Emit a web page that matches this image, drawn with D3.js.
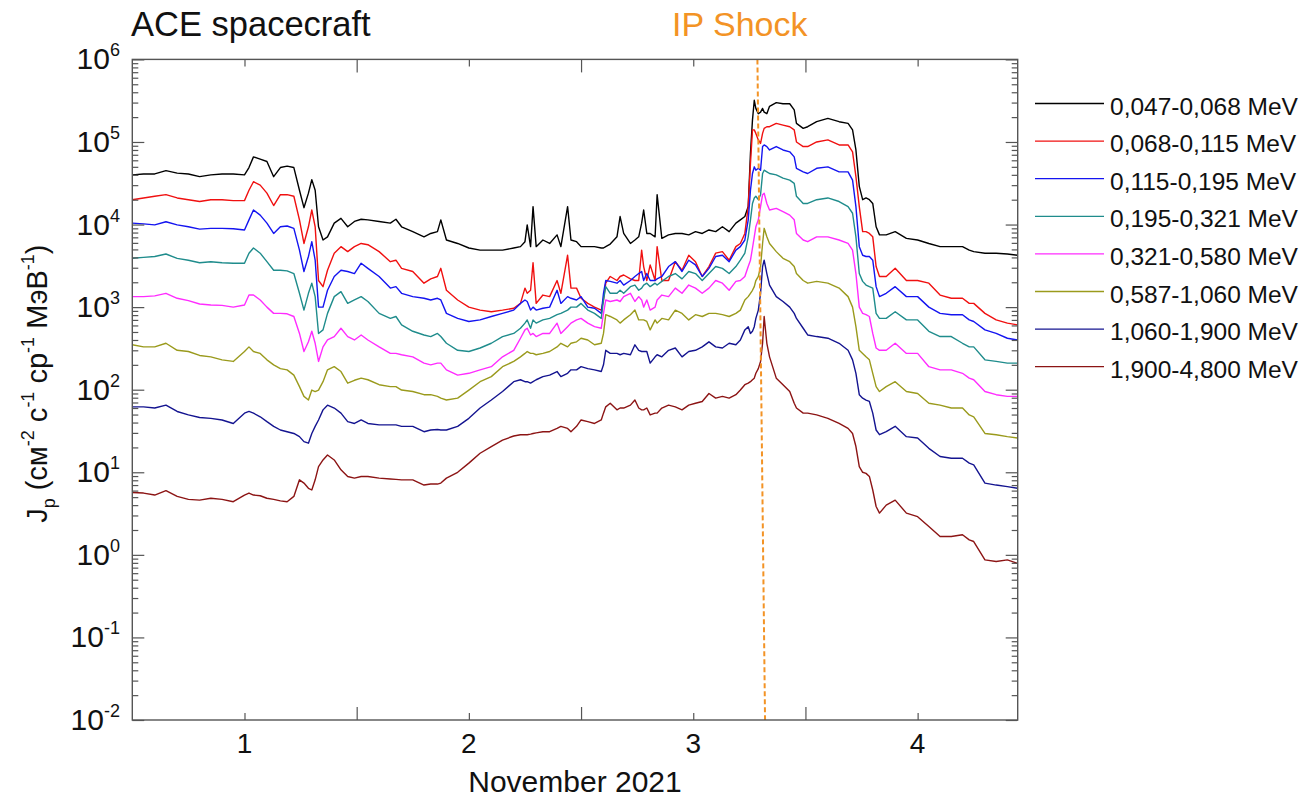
<!DOCTYPE html>
<html>
<head>
<meta charset="utf-8">
<script src="https://cdn.jsdelivr.net/npm/d3@7"></script>
<style>
  body { margin: 0; background: #fff; }
  text { font-family: "Liberation Sans", Arial, sans-serif; fill: #111; }
</style>
</head>
<body>
<svg id="chart" width="1310" height="797"></svg>
<script>
// time, days of November 2021
const times = [
  0.5, 0.55, 0.6, 0.65, 0.7, 0.75, 0.8, 0.85, 0.9, 0.95,
  1.0, 1.02, 1.04, 1.07, 1.1, 1.13, 1.16, 1.19, 1.22, 1.245,
  1.265, 1.285, 1.3, 1.315, 1.33, 1.35, 1.37, 1.4, 1.43, 1.46,
  1.49, 1.52,
  1.55, 1.6, 1.65, 1.675, 1.7, 1.75, 1.8, 1.83, 1.86, 1.875,
  1.9, 1.95, 2.0, 2.05, 2.1, 2.15, 2.2, 2.23, 2.25, 2.26,
  2.275, 2.286, 2.3, 2.33, 2.36, 2.393, 2.41, 2.44, 2.455, 2.48,
  2.5, 2.53, 2.56, 2.59, 2.6, 2.61, 2.63, 2.66, 2.674, 2.69,
  2.72, 2.74, 2.757, 2.77, 2.779, 2.793, 2.808, 2.83, 2.839, 2.86,
  2.89, 2.92, 2.95, 2.98, 3.01, 3.04, 3.07, 3.1, 3.13, 3.16,
  3.19, 3.21, 3.23, 3.245, 3.255, 3.264, 3.272, 3.279, 3.29, 3.3,
  3.309, 3.316, 3.328, 3.34, 3.37, 3.4, 3.43, 3.45, 3.46, 3.49,
  3.51, 3.55, 3.6, 3.65, 3.69, 3.71, 3.725, 3.74, 3.755, 3.77,
  3.785, 3.8, 3.815, 3.83, 3.86, 3.9, 3.95, 4.0, 4.05, 4.1,
  4.15, 4.2, 4.23, 4.25, 4.3, 4.35, 4.4, 4.445
]

// proton flux, cm^-2 s^-1 sr^-1 MeV^-1
const j047 = [
  4.0e4, 4.1e4, 4.1e4, 4.5e4, 4.2e4, 4.1e4, 3.8e4, 4.0e4, 4.1e4, 4.1e4,
  4.0e4, 4.9e4, 6.6e4, 6.2e4, 5.8e4, 3.8e4, 4.9e4, 5.1e4, 4.9e4, 2.6e4,
  1.6e4, 2.4e4, 3.5e4, 2.6e4, 9.4e3, 6.5e3, 7.1e3, 1.04e4, 1.19e4, 9.4e3,
  1.09e4, 1.16e4,
  1.14e4, 1.09e4, 1.04e4, 1.16e4, 9.4e3, 8.2e3, 7.1e3, 7.8e3, 8.2e3, 1.14e4,
  6.5e3, 5.9e3, 5.2e3, 4.9e3, 4.9e3, 4.9e3, 5.2e3, 5.4e3, 6.2e3, 9.9e3,
  5.4e3, 1.65e4, 5.4e3, 6.5e3, 5.9e3, 7.5e3, 5.4e3, 1.65e4, 6.5e3, 6.2e3,
  5.4e3, 5.4e3, 5.4e3, 5.2e3, 5.2e3, 5.4e3, 5.8e3, 7.1e3, 1.25e4, 7.8e3,
  5.9e3, 6.5e3, 7.1e3, 1.04e4, 1.5e4, 7.8e3, 7.8e3, 7.1e3, 2.3e4, 6.8e3,
  7.5e3, 7.8e3, 7.8e3, 7.5e3, 8.2e3, 7.8e3, 8.6e3, 8.2e3, 9.4e3, 8.2e3,
  1.04e4, 1.14e4, 1.25e4, 1.65e4, 7.3e4, 1.85e5, 3.2e5, 2.55e5, 2.2e5, 2.3e5,
  2.55e5, 2.3e5, 2.2e5, 2.7e5, 3.0e5, 2.9e5, 2.9e5, 2.45e5, 1.68e5, 1.46e5,
  1.53e5, 1.76e5, 1.93e5, 1.76e5, 1.68e5, 1.4e5, 8.0e4, 2.9e4, 2.0e4, 2.1e4,
  2.0e4, 1.8e4, 9.4e3, 7.5e3, 7.5e3, 8.2e3, 6.8e3, 6.5e3, 5.9e3, 5.4e3,
  5.4e3, 5.4e3, 4.9e3, 4.7e3, 4.5e3, 4.5e3, 4.4e3, 4.25e3
]
const j068 = [
  2.0e4, 2.1e4, 2.2e4, 2.3e4, 2.1e4, 2.0e4, 1.9e4, 2.0e4, 2.0e4, 1.95e4,
  1.95e4, 2.6e4, 3.3e4, 3.0e4, 2.4e4, 1.7e4, 2.3e4, 2.3e4, 2.2e4, 1.14e4,
  5.9e3, 9.4e3, 1.5e4, 9.4e3, 2.1e3, 1.77e3, 2.8e3, 4.5e3, 5.4e3, 4.7e3,
  5.4e3, 5.9e3,
  5.7e3, 4.7e3, 3.55e3, 3.7e3, 2.95e3, 2.7e3, 1.95e3, 2.2e3, 2.35e3, 2.95e3,
  1.6e3, 1.22e3, 1.0e3, 9.2e2, 8.8e2, 9.2e2, 9.7e2, 1.11e3, 1.7e3, 1.47e3,
  1.6e3, 3.45e3, 1.11e3, 1.4e3, 1.34e3, 2.1e3, 1.47e3, 4.25e3, 1.7e3, 1.7e3,
  1.28e3, 1.11e3, 1.0e3, 9.2e2, 1.22e3, 1.95e3, 2.35e3, 2.1e3, 2.35e3, 2.45e3,
  2.2e3, 2.1e3, 2.1e3, 4.9e3, 3.1e3, 2.1e3, 3.25e3, 2.1e3, 5.4e3, 2.1e3,
  2.1e3, 3.55e3, 2.8e3, 4.25e3, 3.55e3, 2.35e3, 3.1e3, 4.5e3, 4.7e3, 3.7e3,
  5.4e3, 5.9e3, 7.8e3, 1.65e4, 5.5e4, 1.4e5, 1.4e5, 1.27e5, 1.06e5, 9.6e4,
  1.27e5, 1.46e5, 1.53e5, 1.53e5, 1.68e5, 1.6e5, 1.53e5, 1.4e5, 1.0e5, 8.8e4,
  8.8e4, 1.0e5, 1.06e5, 9.2e4, 9.2e4, 7.6e4, 3.8e4, 1.65e4, 8.2e3, 8.2e3,
  7.8e3, 7.1e3, 3.1e3, 2.35e3, 2.35e3, 2.95e3, 2.1e3, 2.1e3, 1.95e3, 1.4e3,
  1.28e3, 1.28e3, 1.11e3, 1.11e3, 8.4e2, 7.0e2, 6.4e2, 6.1e2
]
const j115 = [
  1.04e4, 1.02e4, 9.9e3, 1.08e4, 9.9e3, 9.4e3, 8.8e3, 9.0e3, 9.0e3, 8.9e3,
  8.6e3, 1.14e4, 1.5e4, 1.3e4, 1.04e4, 7.8e3, 9.4e3, 9.6e3, 9.0e3, 4.9e3,
  2.7e3, 4.1e3, 6.2e3, 3.7e3, 1.0e3, 1.0e3, 1.6e3, 2.35e3, 2.8e3, 2.7e3,
  2.55e3, 3.4e3,
  2.95e3, 2.35e3, 1.7e3, 1.77e3, 1.47e3, 1.34e3, 1.28e3, 1.22e3, 1.28e3, 1.22e3,
  8.4e2, 7.3e2, 6.7e2, 7.0e2, 7.7e2, 8.4e2, 9.2e2, 1.11e3, 1.22e3, 1.17e3,
  9.2e2, 1.0e3, 9.2e2, 9.7e2, 1.0e3, 1.6e3, 1.11e3, 1.34e3, 1.28e3, 1.22e3,
  1.34e3, 1.0e3, 9.7e2, 8.4e2, 1.47e3, 2.1e3, 2.05e3, 1.95e3, 2.1e3, 1.85e3,
  2.1e3, 2.35e3, 2.55e3, 2.7e3, 2.1e3, 2.55e3, 2.1e3, 2.1e3, 2.2e3, 2.35e3,
  3.1e3, 3.55e3, 2.7e3, 3.7e3, 3.25e3, 2.35e3, 2.95e3, 4.1e3, 4.25e3, 3.55e3,
  4.9e3, 5.4e3, 6.5e3, 1.14e4, 2.6e4, 4.15e4, 5.0e4, 4.55e4, 4.8e4, 4.55e4,
  8.8e4, 9.2e4, 8.8e4, 8.0e4, 8.8e4, 8.0e4, 7.6e4, 6.6e4, 4.8e4, 4.35e4,
  4.15e4, 4.8e4, 5.0e4, 4.35e4, 4.35e4, 3.45e4, 1.65e4, 5.4e3, 4.25e3, 4.1e3,
  4.1e3, 3.7e3, 1.77e3, 1.34e3, 1.47e3, 1.77e3, 1.34e3, 1.34e3, 1.0e3, 8.4e2,
  8.1e2, 8.1e2, 7.0e2, 6.7e2, 5.3e2, 4.8e2, 4.2e2, 4.0e2
]
const j195 = [
  3.9e3, 4.0e3, 4.1e3, 4.4e3, 3.9e3, 3.7e3, 3.45e3, 3.55e3, 3.45e3, 3.4e3,
  3.4e3, 4.5e3, 5.2e3, 4.5e3, 3.55e3, 2.8e3, 2.8e3, 2.75e3, 2.55e3, 1.47e3,
  9.2e2, 1.47e3, 1.95e3, 1.34e3, 4.8e2, 5.3e2, 8.4e2, 1.34e3, 1.54e3, 1.11e3,
  1.22e3, 1.34e3,
  1.17e3, 8.4e2, 7.3e2, 7.7e2, 6.1e2, 5.1e2, 4.6e2, 4.4e2, 4.8e2, 4.4e2,
  3.65e2, 3.0e2, 2.9e2, 3.2e2, 3.65e2, 4.4e2, 4.8e2, 5.55e2, 6.4e2, 7.0e2,
  5.55e2, 7.0e2, 6.4e2, 7.0e2, 7.3e2, 8.1e2, 8.4e2, 9.2e2, 1.0e3, 1.0e3,
  1.11e3, 9.2e2, 8.4e2, 7.3e2, 1.22e3, 1.77e3, 1.47e3, 1.47e3, 1.6e3, 1.47e3,
  1.77e3, 1.85e3, 1.6e3, 1.7e3, 1.85e3, 1.95e3, 1.77e3, 1.95e3, 1.85e3, 2.05e3,
  2.35e3, 2.55e3, 2.2e3, 2.7e3, 2.55e3, 2.1e3, 2.55e3, 3.1e3, 2.95e3, 2.55e3,
  3.1e3, 3.7e3, 4.5e3, 7.1e3, 1.14e4, 1.8e4, 2.1e4, 2.2e4, 2.0e4, 2.3e4,
  4.15e4, 4.55e4, 4.35e4, 4.15e4, 4.0e4, 3.65e4, 3.45e4, 3.15e4, 2.2e4, 1.8e4,
  1.8e4, 2.0e4, 2.1e4, 1.9e4, 1.65e4, 1.37e4, 7.1e3, 2.55e3, 2.05e3, 1.85e3,
  1.77e3, 1.7e3, 8.4e2, 7.3e2, 7.3e2, 8.8e2, 7.0e2, 7.0e2, 5.1e2, 4.4e2,
  4.4e2, 3.65e2, 3.3e2, 3.3e2, 2.3e2, 2.2e2, 2.1e2, 2.1e2
]
const j321 = [
  1.34e3, 1.34e3, 1.37e3, 1.47e3, 1.28e3, 1.2e3, 1.09e3, 1.06e3, 1.05e3, 1.0e3,
  1.06e3, 1.4e3, 1.4e3, 1.22e3, 1.0e3, 8.4e2, 8.4e2, 8.3e2, 7.7e2, 4.8e2,
  2.9e2, 3.8e2, 5.1e2, 3.65e2, 2.2e2, 3.3e2, 4.0e2, 4.4e2, 5.55e2, 4.4e2,
  4.0e2, 4.6e2,
  4.0e2, 3.3e2, 2.75e2, 2.75e2, 2.65e2, 2.5e2, 2.1e2, 2.0e2, 2.1e2, 2.1e2,
  1.74e2, 1.5e2, 1.58e2, 1.74e2, 1.9e2, 2.5e2, 3.0e2, 4.2e2, 5.3e2, 5.55e2,
  4.6e2, 4.8e2, 4.4e2, 4.8e2, 4.8e2, 6.4e2, 4.8e2, 5.8e2, 6.4e2, 7.0e2,
  7.3e2, 6.4e2, 5.8e2, 5.55e2, 8.4e2, 1.22e3, 1.17e3, 1.22e3, 1.17e3, 1.34e3,
  1.47e3, 1.17e3, 1.34e3, 1.22e3, 1.0e3, 1.22e3, 9.2e2, 1.0e3, 1.22e3, 1.4e3,
  1.34e3, 1.7e3, 1.47e3, 1.85e3, 1.7e3, 1.47e3, 1.7e3, 2.1e3, 1.95e3, 1.6e3,
  2.05e3, 2.1e3, 2.35e3, 3.1e3, 3.7e3, 5.2e3, 7.1e3, 9.4e3, 1.14e4, 1.65e4,
  2.3e4, 2.4e4, 1.8e4, 1.5e4, 1.57e4, 1.43e4, 1.3e4, 1.14e4, 7.8e3, 6.5e3,
  6.2e3, 7.1e3, 7.1e3, 6.5e3, 5.9e3, 4.9e3, 2.55e3, 1.0e3, 8.4e2, 8.1e2,
  7.7e2, 4.8e2, 3.2e2, 3.0e2, 3.0e2, 3.65e2, 2.75e2, 2.75e2, 1.9e2, 1.74e2,
  1.74e2, 1.58e2, 1.38e2, 1.32e2, 9.5e1, 8.7e1, 8.3e1, 8.3e1
]
const j587 = [
  3.5e2, 3.3e2, 3.3e2, 3.65e2, 3.0e2, 2.9e2, 2.6e2, 2.5e2, 2.3e2, 2.2e2,
  2.9e2, 3.3e2, 2.9e2, 2.75e2, 2.3e2, 2.0e2, 1.8e2, 1.74e2, 1.5e2, 1.09e2,
  8.3e1, 7.5e1, 9.9e1, 9.5e1, 9.9e1, 1.25e2, 1.74e2, 1.9e2, 1.66e2, 1.2e2,
  1.3e2, 1.38e2,
  1.32e2, 1.15e2, 1.09e2, 1.09e2, 9.9e1, 9.5e1, 8.7e1, 8.7e1, 8.3e1, 7.9e1,
  7.5e1, 7.9e1, 9.9e1, 1.25e2, 1.44e2, 1.9e2, 2.2e2, 2.5e2, 2.75e2, 2.9e2,
  2.75e2, 2.75e2, 2.65e2, 2.75e2, 2.9e2, 3.3e2, 3.65e2, 3.3e2, 3.65e2, 3.8e2,
  4.2e2, 4.0e2, 3.5e2, 3.65e2, 4.8e2, 8.1e2, 7.7e2, 7.0e2, 6.4e2, 7.0e2,
  8.1e2, 9.2e2, 7.0e2, 7.0e2, 7.0e2, 6.7e2, 5.3e2, 7.0e2, 6.4e2, 7.3e2,
  7.0e2, 9.2e2, 8.4e2, 7.0e2, 8.1e2, 7.7e2, 8.4e2, 8.4e2, 8.1e2, 7.7e2,
  8.4e2, 9.2e2, 1.22e3, 1.34e3, 1.47e3, 1.6e3, 1.77e3, 2.1e3, 2.35e3, 3.1e3,
  5.9e3, 9.0e3, 7.1e3, 5.9e3, 4.7e3, 3.9e3, 3.55e3, 3.1e3, 2.55e3, 2.1e3,
  1.95e3, 2.05e3, 1.95e3, 1.7e3, 1.34e3, 1.0e3, 5.8e2, 3.0e2, 2.75e2, 2.5e2,
  2.3e2, 1.58e2, 1.09e2, 9.5e1, 1.09e2, 1.25e2, 9.5e1, 9.0e1, 6.85e1, 6.5e1,
  6.0e1, 6.0e1, 4.95e1, 4.7e1, 2.95e1, 2.85e1, 2.7e1, 2.6e1
]
const j1060 = [
  6.2e1, 6.2e1, 6.0e1, 6.5e1, 5.45e1, 4.95e1, 4.6e1, 4.5e1, 4.3e1, 3.9e1,
  5.2e1, 5.45e1, 5.2e1, 4.7e1, 4.1e1, 3.6e1, 3.25e1, 3.1e1, 2.95e1, 2.7e1,
  2.35e1, 2.25e1, 2.95e1, 3.6e1, 4.3e1, 5.7e1, 6.5e1, 6.0e1, 5.2e1, 4.1e1,
  3.9e1, 4.3e1,
  3.9e1, 3.75e1, 3.75e1, 3.75e1, 3.6e1, 3.6e1, 3.1e1, 3.25e1, 3.3e1, 3.25e1,
  3.25e1, 3.6e1, 4.5e1, 6.0e1, 7.5e1, 9.5e1, 1.25e2, 1.32e2, 1.25e2, 1.25e2,
  1.2e2, 1.25e2, 1.32e2, 1.44e2, 1.5e2, 1.66e2, 1.44e2, 1.58e2, 1.74e2, 1.74e2,
  1.9e2, 1.8e2, 1.74e2, 1.66e2, 2.0e2, 3.0e2, 2.75e2, 2.75e2, 2.65e2, 2.75e2,
  2.65e2, 3.5e2, 3.0e2, 2.9e2, 2.9e2, 2.9e2, 2.1e2, 2.5e2, 2.65e2, 2.5e2,
  3.0e2, 3.2e2, 2.5e2, 2.9e2, 3.0e2, 3.3e2, 3.8e2, 3.3e2, 3.2e2, 3.65e2,
  3.5e2, 4.0e2, 5.3e2, 5.8e2, 4.8e2, 5.1e2, 5.8e2, 7.3e2, 9.2e2, 1.47e3,
  3.1e3, 3.7e3, 2.55e3, 1.85e3, 1.34e3, 1.17e3, 1.0e3, 8.4e2, 7.3e2, 5.55e2,
  4.6e2, 4.4e2, 4.2e2, 3.65e2, 3.0e2, 2.3e2, 1.58e2, 8.7e1, 7.9e1, 7.5e1,
  7.2e1, 5.2e1, 3.25e1, 2.85e1, 3.1e1, 3.6e1, 2.7e1, 2.6e1, 1.95e1, 1.55e1,
  1.48e1, 1.48e1, 1.29e1, 1.23e1, 7.4, 7.0, 6.7, 6.4
]
const j1900 = [
  5.7, 5.6, 5.3, 6.0, 5.1, 4.7, 4.6, 4.85, 4.7, 4.4,
  5.3, 5.6, 5.3, 5.2, 4.85, 4.7, 4.5, 4.4, 5.1, 8.1,
  7.4, 6.4, 6.1, 8.1, 11.7, 14.1, 16.2, 14.1, 10.7, 8.9,
  8.5, 8.9,
  8.9, 8.5, 8.3, 8.2, 8.1, 8.1, 7.0, 7.2, 7.2, 7.4,
  8.5, 10, 12.9, 17, 20.5, 24.5, 27.5, 28.5, 28.5, 28.5,
  29, 29.5, 30, 31, 31, 34, 36, 34, 31, 36,
  43, 41, 39, 43, 52, 62, 68.5, 57, 60, 60,
  65, 75, 60, 57, 57, 60, 49.5, 52, 52, 60,
  65, 62, 57, 65, 68.5, 72, 90, 79, 83, 79,
  87, 99, 115, 120, 125, 132, 138, 158, 180, 220,
  365, 770, 365, 250, 138, 115, 95, 68.5, 60, 52,
  52, 49.5, 45, 39, 34, 29.5, 20.5, 11.7, 10, 9.7,
  8.9, 6.1, 3.85, 3.2, 4.0, 4.6, 3.2, 2.9, 2.2, 1.67,
  1.67, 1.75, 1.52, 1.45, 0.87, 0.83, 0.87, 0.79
]

const series = [j047, j068, j115, j195, j321, j587, j1060, j1900]
const seriesNames = [
  '0,047-0,068 MeV', '0,068-0,115 MeV', '0,115-0,195 MeV', '0,195-0,321 MeV',
  '0,321-0,580 MeV', '0,587-1,060 MeV', '1,060-1,900 MeV', '1,900-4,800 MeV'
]
const seriesColors = ['#000000', '#f01010', '#1414f0', '#1f8c8c', '#ff2cff', '#9a9a1c', '#141490', '#8c1414']

const dayTicks = [1, 2, 3, 4]
const halfDayTicks = [1.5, 2.5, 3.5]
const decadeExps = [-2, -1, 0, 1, 2, 3, 4, 5, 6]
// shock front as drawn (slightly slanted)
const shockTimes = [3.286, 3.320]
const shockFlux = [1e6, 1e-2]

const svg = d3.select('#chart')
const x = d3.scaleLinear().domain([0.5, 4.446]).range([132.3, 1017.7])
const y = d3.scaleLog().domain([1e-2, 1e6]).range([720, 59.4])
const orange = '#f39325'
const axisColor = '#555'

// data lines
const line = d3.line().x((d, i) => x(times[i])).y(d => y(d))
series.forEach((s, k) => {
  svg.append('path')
    .datum(s)
    .attr('d', line)
    .attr('fill', 'none')
    .attr('stroke', seriesColors[k])
    .attr('stroke-width', 1.4)
    .attr('stroke-linejoin', 'round')
})

// IP shock
svg.append('path')
  .datum(shockTimes)
  .attr('d', d3.line().x(d => x(d)).y((d, i) => y(shockFlux[i])))
  .attr('stroke', orange)
  .attr('stroke-width', 2)
  .attr('stroke-dasharray', '5,3')
  .attr('fill', 'none')

// frame + ticks
const x0 = x.range()[0], x1 = x.range()[1]
const y0 = y.range()[0], y1 = y.range()[1]
const decades = decadeExps.map(e => Math.pow(10, e))
const minors = y.ticks().filter(v => !decades.some(d => Math.abs(v / d - 1) < 1e-9))

function styleAxis (g) {
  g.select('.domain').remove()
  g.selectAll('line').attr('stroke', axisColor).attr('stroke-width', 1.2)
  g.selectAll('text').remove()
}
svg.append('g').attr('transform', `translate(${x0},0)`)
  .call(d3.axisLeft(y).tickValues(decades).tickSize(-12)).call(styleAxis)
svg.append('g').attr('transform', `translate(${x0},0)`)
  .call(d3.axisLeft(y).tickValues(minors).tickSize(-6)).call(styleAxis)
svg.append('g').attr('transform', `translate(${x1},0)`)
  .call(d3.axisRight(y).tickValues(decades).tickSize(-12)).call(styleAxis)
svg.append('g').attr('transform', `translate(${x1},0)`)
  .call(d3.axisRight(y).tickValues(minors).tickSize(-6)).call(styleAxis)
svg.append('g').attr('transform', `translate(0,${y0})`)
  .call(d3.axisBottom(x).tickValues(dayTicks).tickSize(-7)).call(styleAxis)
svg.append('g').attr('transform', `translate(0,${y0})`)
  .call(d3.axisBottom(x).tickValues(halfDayTicks).tickSize(-13)).call(styleAxis)
svg.append('g').attr('transform', `translate(0,${y1})`)
  .call(d3.axisTop(x).tickValues(dayTicks).tickSize(-7)).call(styleAxis)
svg.append('g').attr('transform', `translate(0,${y1})`)
  .call(d3.axisTop(x).tickValues(halfDayTicks).tickSize(-13)).call(styleAxis)

svg.append('rect')
  .attr('x', x0).attr('y', y1)
  .attr('width', x1 - x0).attr('height', y0 - y1)
  .attr('fill', 'none').attr('stroke', axisColor).attr('stroke-width', 1.4)

// y tick labels 10^n
decadeExps.forEach(e => {
  const t = svg.append('text')
    .attr('x', 120).attr('y', y(Math.pow(10, e)) + 10)
    .attr('text-anchor', 'end')
    .attr('font-size', 30)
  t.append('tspan').text('10')
  t.append('tspan').attr('dy', -13).attr('font-size', 18).text(String(e))
})

// x tick labels
svg.selectAll('.xlab').data(dayTicks).enter().append('text')
  .attr('x', d => x(d)).attr('y', 753)
  .attr('text-anchor', 'middle').attr('font-size', 28)
  .text(d => d)

svg.append('text')
  .attr('x', (x0 + x1) / 2).attr('y', 792)
  .attr('text-anchor', 'middle').attr('font-size', 30)
  .text('November 2021')

// y axis title
const yt = svg.append('text')
  .attr('transform', `translate(47,${(y0 + y1) / 2 - 6}) rotate(-90)`)
  .attr('text-anchor', 'middle').attr('font-size', 29)
yt.append('tspan').text('J')
yt.append('tspan').attr('dy', 8).attr('font-size', 18).text('p')
yt.append('tspan').attr('dy', -8).text(' (см')
yt.append('tspan').attr('dy', -13).attr('font-size', 18).text('-2')
yt.append('tspan').attr('dy', 13).text(' с')
yt.append('tspan').attr('dy', -13).attr('font-size', 18).text('-1')
yt.append('tspan').attr('dy', 13).text(' ср')
yt.append('tspan').attr('dy', -13).attr('font-size', 18).text('-1')
yt.append('tspan').attr('dy', 13).text(' МэВ')
yt.append('tspan').attr('dy', -13).attr('font-size', 18).text('-1')
yt.append('tspan').attr('dy', 13).text(')')

// titles
svg.append('text').attr('x', 131).attr('y', 36).attr('font-size', 34.5).text('ACE spacecraft')
svg.append('text').attr('x', 672).attr('y', 36).attr('font-size', 34)
  .style('fill', orange).text('IP Shock')

// legend
const legend = svg.append('g')
seriesNames.forEach((name, k) => {
  const ly = 103.5 + k * 37.6
  legend.append('line')
    .attr('x1', 1035).attr('x2', 1104).attr('y1', ly).attr('y2', ly)
    .attr('stroke', seriesColors[k]).attr('stroke-width', 1.3)
  legend.append('text')
    .attr('x', 1110).attr('y', ly + 11)
    .attr('font-size', 24.5)
    .text(name)
})
</script>
</body>
</html>
